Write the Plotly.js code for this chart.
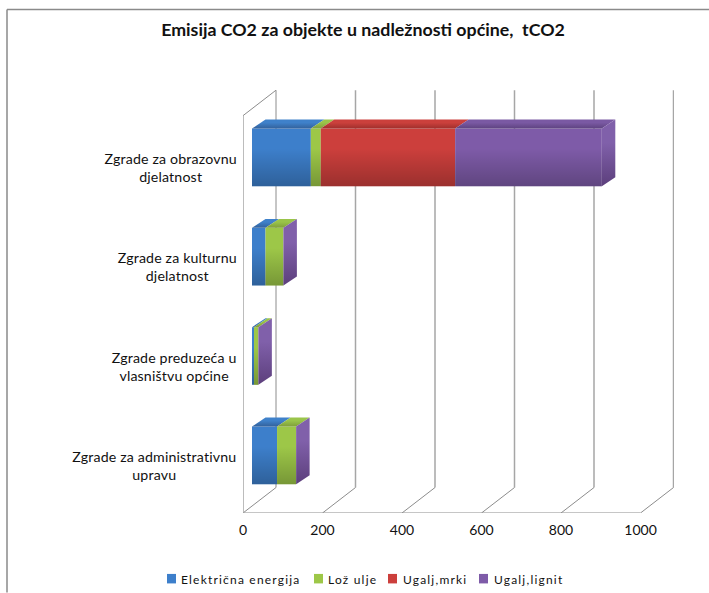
<!DOCTYPE html>
<html>
<head>
<meta charset="utf-8">
<script src="https://cdn.plot.ly/plotly-3.0.1.min.js"></script>
<style>
html,body{margin:0;padding:0;background:#fff;overflow:hidden}
#chart{width:709px;height:593px}
.annotation[data-index="0"] .annotation-text,
.annotation[data-index="1"] .annotation-text,
.annotation[data-index="2"] .annotation-text,
.annotation[data-index="3"] .annotation-text{letter-spacing:.15px}
.annotation[data-index="4"] .annotation-text,
.annotation[data-index="5"] .annotation-text,
.annotation[data-index="6"] .annotation-text,
.annotation[data-index="7"] .annotation-text{letter-spacing:1.2px}
</style>
</head>
<body>
<div id="chart"></div>
<script>
// ---- data (bottom category first) ----
const categories = ["Zgrade za administrativnu<br>upravu", "Zgrade preduzeća u<br>vlasništvu općine", "Zgrade za kulturnu<br>djelatnost", "Zgrade za obrazovnu<br>djelatnost"];
const electricity = [63, 5, 34, 148];
const heatingOil = [48, 11, 45, 25];
const brownCoal = [0, 0, 0, 338];
const lignite = [0, 0, 0, 369];
const seriesNames = ["Električna energija", "Lož ulje", "Ugalj,mrki", "Ugalj,lignit"];
const xTicks = [0, 200, 400, 600, 800, 1000];
const chartTitle = "Emisija CO2 za objekte u nadležnosti općine,  tCO2";

// ---- style ----
const fills = ["#3d7fcb", "#9dc748", "#cc3f3c", "#7e5ba8"];
const topGrad = [["#33619b", "#3f81ca"], ["#7f9e3a", "#9ac44a"], ["#9f2f2c", "#cb403c"], ["#5e4380", "#7a59a3"]];
const sideGrad = ["#5c3f7c", "#8060aa"];

// ---- plot geometry ----
const W = 709, H = 593, L = 243, R = 35, T = 90, B = 79.5;
const pxPerX = 0.3975, pxPerY = 99.45;
const plotW = W - L - R, plotH = H - T - B;
const xMax = plotW / pxPerX, yMin = -0.5, yMax = yMin + plotH / pxPerY;
const dx = px => px / pxPerX, dy = px => px / pxPerY;
const wallDX = dx(33), wallDY = dy(25.5);      // depth of the floor / walls
const barDX = dx(9), barDY = dy(8);            // bar front plane inside the floor
const depthDX = dx(13.5), depthDY = dy(9);     // bar depth
const barH = 0.58;

const allSeries = [electricity, heatingOil, brownCoal, lignite];
const yPos = categories.map((_, i) => i + barDY);
const traces = [];

// real bars (front faces)
const cum = categories.map(() => barDX);
allSeries.forEach((vals, s) => {
  traces.push({
    type: "bar", orientation: "h", name: seriesNames[s],
    y: yPos, x: vals, base: cum.slice(), width: barH,
    marker: {color: fills[s], line: {width: 0}},
    showlegend: false, hoverinfo: "name+x"
  });
  vals.forEach((v, i) => cum[i] += v);
});

function poly(xs, ys, c0, c1) {
  traces.push({
    type: "scatter", mode: "none", x: xs.concat(xs[0]), y: ys.concat(ys[0]),
    fill: "toself", fillgradient: {type: "vertical", colorscale: [[0, c0], [0.65, c1], [1, c1]]},
    showlegend: false, hoverinfo: "skip"
  });
}

// vertical shade across each front face, top faces and end faces
categories.forEach((_, i) => {
  const y0 = yPos[i] - barH / 2, y1 = yPos[i] + barH / 2;
  poly([barDX, cum[i], cum[i], barDX], [y0, y0, y1, y1], "rgba(0,0,0,0.24)", "rgba(0,0,0,0)");
  let start = barDX;
  allSeries.forEach((vals, s) => {
    const v = vals[i];
    if (v > 0) {
      poly([start, start + v, start + v + depthDX, start + depthDX],
           [y1, y1, y1 + depthDY, y1 + depthDY], topGrad[s][0], topGrad[s][1]);
    }
    start += v;
  });
  poly([start, start + depthDX, start + depthDX, start],
       [y0, y0 + depthDY, y1 + depthDY, y1], sideGrad[0], sideGrad[1]);
});

// 3-D frame: walls, floor and grid, below every trace
const lineStyle = {color: "#8c8c8c", width: 1};
const gridStyle = {color: "#a6a6a6", width: 1.5};
const frameTop = yMin + dy(397.8);
const shapes = [];
function seg(x0, y0, x1, y1, line) {
  shapes.push({type: "line", xref: "x", yref: "y", layer: "below", x0, y0, x1, y1, line});
}
xTicks.forEach(t => {
  seg(t + wallDX, yMin + wallDY, t + wallDX, frameTop + wallDY, t === 0 ? lineStyle : gridStyle);
  seg(t, yMin, t + wallDX, yMin + wallDY, lineStyle);
});
seg(0, yMin, xTicks[xTicks.length - 1], yMin, lineStyle);
seg(0, yMin, 0, frameTop, gridStyle);
seg(0, frameTop, wallDX, frameTop + wallDY, lineStyle);

// chart border (top and left edges)
const px2paperX = p => (p - L) / plotW, px2paperY = p => (H - B - p) / plotH;
const borderStyle = {color: "#8a8a8a", width: 1.5};
shapes.push({type: "line", xref: "paper", yref: "paper", x0: px2paperX(7), x1: px2paperX(709), y0: px2paperY(9.5), y1: px2paperY(9.5), line: borderStyle});
shapes.push({type: "line", xref: "paper", yref: "paper", x0: px2paperX(7), x1: px2paperX(7), y0: px2paperY(9.5), y1: px2paperY(593), line: borderStyle});

const font = "Lato, Carlito, sans-serif";
const annotations = categories.map((c, i) => ({
  text: c, xref: "paper", yref: "y", x: px2paperX(237), y: i + barDY, yshift: -10,
  xanchor: "right", yanchor: "middle", align: "center", showarrow: false,
  font: {family: font, size: 14.2, color: "#111"}
}));

// legend row
const swatchX = [167, 314, 388, 479];
const textX = [180, 327, 402, 493];
seriesNames.forEach((n, s) => {
  shapes.push({type: "rect", xref: "paper", yref: "paper",
    x0: px2paperX(swatchX[s]), x1: px2paperX(swatchX[s] + 9),
    y0: px2paperY(574.5), y1: px2paperY(584),
    fillcolor: fills[s], line: {width: 0}});
  annotations.push({text: n, xref: "paper", yref: "paper",
    x: px2paperX(textX[s] - 1), y: px2paperY(580), xanchor: "left", yanchor: "middle",
    width: 130, align: "left", showarrow: false, captureevents: false,
    font: {family: font, size: 12, color: "#111"}});
});

Plotly.newPlot("chart", traces, {
  width: W, height: H, margin: {l: L, r: R, t: T, b: B, pad: 0},
  paper_bgcolor: "#fff", plot_bgcolor: "rgba(0,0,0,0)",
  barmode: "overlay", showlegend: false,
  title: {text: "<b>" + chartTitle + "</b>", x: 363 / W, xanchor: "center", y: 1 - 30 / H, yanchor: "middle",
          font: {family: font, size: 17.8, color: "#111"}},
  xaxis: {range: [0, xMax], tickmode: "array", tickvals: xTicks, ticktext: xTicks.map(String),
          showgrid: false, zeroline: false, showline: false, ticks: "outside", ticklen: 4, tickcolor: "rgba(0,0,0,0)",
          tickfont: {family: font, size: 14, color: "#111"}},
  yaxis: {range: [yMin, yMax], showgrid: false, zeroline: false, showline: false, showticklabels: false, ticks: ""},
  shapes, annotations
}, {displayModeBar: false});
</script>
</body>
</html>
